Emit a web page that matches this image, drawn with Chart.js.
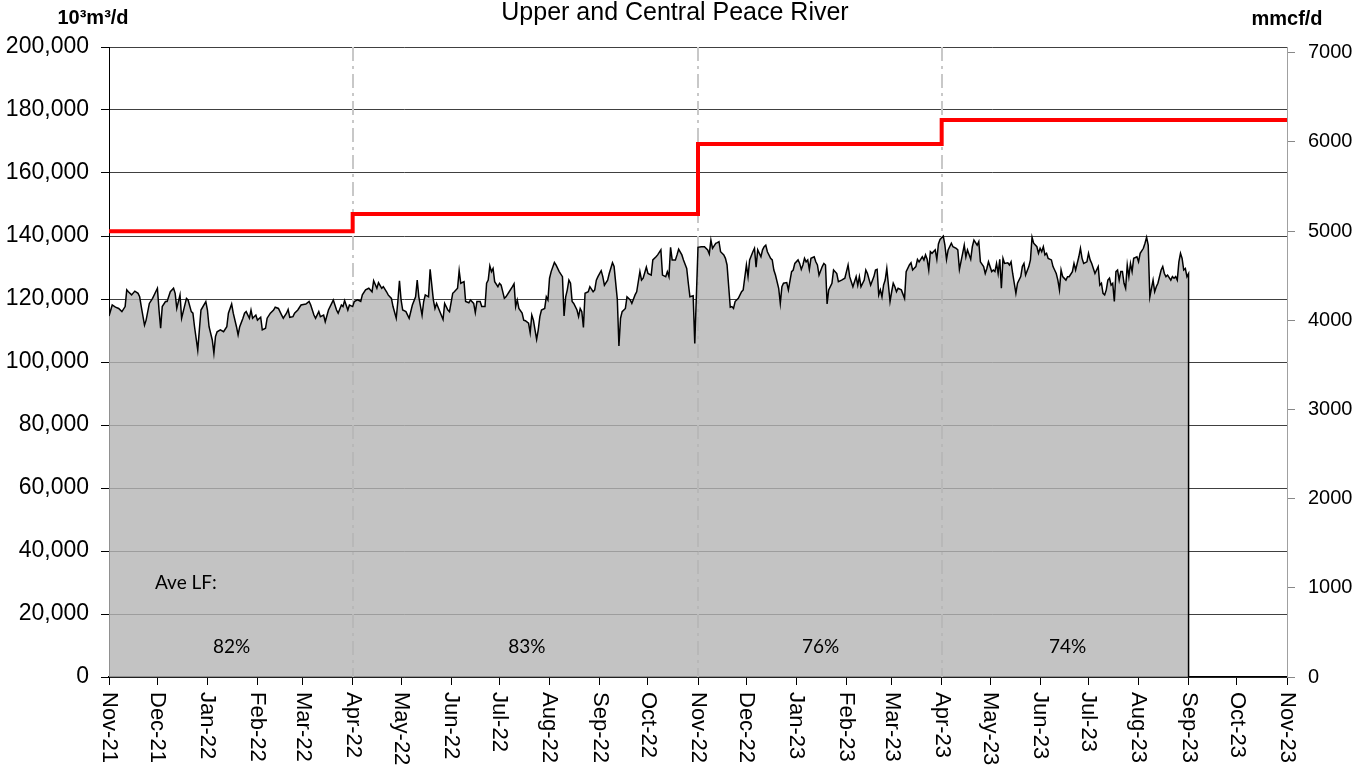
<!DOCTYPE html>
<html>
<head>
<meta charset="utf-8">
<script src="https://cdn.jsdelivr.net/npm/chart.js@4"></script>
<style>
  html, body { margin: 0; padding: 0; background: #fff; }
  #chart-container { width: 1365px; height: 768px; }
</style>
</head>
<body>
<div id="chart-container"><canvas id="myChart" width="1365" height="768"></canvas></div>
<script>
// month tick labels, first one is 1 Nov 2021 (day 0)
const monthLabels = [
  "Nov-21", "Dec-21", "Jan-22", "Feb-22", "Mar-22", "Apr-22", "May-22", "Jun-22",
  "Jul-22", "Aug-22", "Sep-22", "Oct-22", "Nov-22", "Dec-22", "Jan-23", "Feb-23",
  "Mar-23", "Apr-23", "May-23", "Jun-23", "Jul-23", "Aug-23", "Sep-23", "Oct-23", "Nov-23",
];

// daily throughput, [day since 1 Nov 2021, 10^3 m3/d]
const flowPoints = [
  [0,114600],[2,118100],[4,117400],[6,117000],[8,116000],[10,117600],[11,122900],[12,122300],[14,121300],[16,122500],
  [18,121800],[19,120700],[20,117600],[22,111700],[23,113300],[25,118600],[27,120200],[30,123400],[31,116500],[32,110700],
  [33,117600],[35,119200],[36,119200],[38,122300],[40,123400],[41,121800],[42,117000],[44,121300],[45,113900],[46,116000],
  [48,120200],[49,119700],[51,116000],[52,115500],[53,111200],[55,103800],[56,110200],[57,116500],[60,119200],[61,116500],
  [62,111200],[64,107000],[65,102800],[66,108100],[67,109600],[69,110200],[71,109600],[73,111200],[74,115500],[76,118400],
  [77,115500],[79,111200],[80,108600],[81,111200],[83,113900],[84,115500],[85,116000],[87,113900],[88,116500],[89,113900],
  [91,114900],[92,113300],[94,114200],[95,110200],[97,110700],[98,113900],[100,115500],[102,116500],[103,117400],[105,117000],
  [107,114900],[108,113900],[110,115500],[111,116700],[112,114200],[114,114400],[115,115500],[117,116500],[119,118100],[122,118400],
  [124,119200],[125,118100],[127,114900],[128,113900],[130,116000],[131,114400],[133,114900],[134,112800],[136,116500],[138,118600],
  [139,119700],[141,116500],[142,115500],[144,118100],[145,117600],[146,119500],[148,116500],[149,118100],[151,117600],[152,119200],
  [154,119700],[156,119200],[157,121300],[159,122900],[161,123400],[163,122300],[164,125800],[166,123400],[167,125200],[169,123400],
  [170,123900],[172,122300],[173,121300],[175,120200],[176,117600],[178,113900],[179,119200],[180,125800],[181,119700],[182,116500],
  [184,116000],[186,113900],[188,118100],[190,120700],[191,126000],[192,120700],[194,114900],[195,119200],[196,121300],[198,120700],
  [199,129400],[201,119700],[202,117000],[203,118600],[205,116000],[207,113500],[208,118600],[210,116500],[211,116000],[213,121800],
  [214,122300],[216,123400],[217,129000],[218,125000],[220,125500],[221,119200],[223,118800],[224,119700],[226,118600],[227,115700],
  [228,119200],[230,119200],[231,117600],[233,117600],[234,125000],[235,126000],[236,130500],[237,128700],[238,129700],[239,125500],
  [241,123900],[242,125000],[243,124400],[245,120200],[246,120700],[248,122300],[250,123900],[251,124800],[252,117600],[253,119700],
  [254,117000],[256,115500],[257,113300],[258,113100],[260,112300],[261,109300],[262,114900],[263,113300],[264,110200],[265,107200],
  [266,110200],[267,114400],[268,116500],[270,117000],[271,120700],[272,119700],[273,126600],[274,128700],[276,131600],[277,130800],
  [279,128700],[281,127100],[282,114600],[283,120700],[284,122900],[285,126000],[286,125000],[287,119200],[288,118600],[290,116500],
  [291,114400],[292,117000],[293,116000],[294,111000],[295,121800],[297,122300],[298,123900],[300,122300],[301,122900],[302,126000],
  [303,127100],[305,129000],[306,127100],[307,124400],[309,126000],[310,128100],[312,131500],[313,130300],[315,119900],[316,105100],
  [317,113900],[318,116000],[320,117000],[321,120700],[323,119700],[324,118600],[326,121300],[327,122300],[329,128700],[330,126000],
  [331,126600],[333,130100],[334,128100],[336,127600],[337,132400],[339,133400],[340,134000],[342,135600],[343,127600],[345,127100],
  [346,128700],[347,127100],[348,136400],[349,132400],[351,132400],[352,134000],[353,135800],[355,134000],[356,132400],[358,129700],
  [359,125000],[360,120700],[362,121000],[363,105900],[365,136400],[367,136600],[369,136600],[371,135600],[372,134300],[373,138700],
  [374,136100],[376,137700],[377,137900],[378,138200],[379,135000],[381,134000],[382,132900],[383,130800],[385,117400],[386,117600],
  [387,117000],[388,119200],[390,120200],[392,122300],[393,122900],[395,130800],[396,127100],[397,132400],[399,135000],[400,136100],
  [401,130100],[402,135600],[404,133400],[405,135600],[406,136600],[407,137100],[408,135000],[410,132900],[411,132400],[412,129200],
  [413,127600],[415,123400],[416,118600],[417,123900],[418,125000],[420,125200],[421,122900],[423,128700],[424,129200],[425,131300],
  [427,132400],[428,131300],[429,129400],[430,130800],[431,132900],[432,131800],[433,132400],[434,129400],[435,132900],[437,133400],
  [438,131800],[439,130800],[440,127600],[442,130300],[443,131300],[444,130800],[445,118400],[446,122900],[448,125000],[449,129200],
  [451,128100],[452,125500],[454,126000],[456,126600],[457,128700],[458,130800],[459,127100],[460,125500],[461,123900],[463,127100],
  [464,124400],[465,127100],[466,123900],[468,126000],[469,129200],[470,128100],[472,124400],[474,127100],[475,129200],[476,129400],
  [477,121300],[478,122900],[479,120700],[480,124400],[481,126000],[482,129700],[484,119200],[485,122300],[486,125000],[487,123900],
  [488,122300],[489,123400],[491,122900],[493,120200],[494,128700],[496,130800],[497,131500],[498,129200],[500,130300],[501,132600],
  [502,131800],[504,133400],[505,132400],[506,134000],[507,132600],[508,129200],[509,135000],[510,134500],[512,135600],[513,132600],
  [514,137500],[515,138900],[517,140000],[518,137100],[519,132600],[520,135600],[522,137700],[523,136600],[525,136100],[526,135600],
  [527,129400],[529,134500],[530,137100],[531,133400],[532,135600],[534,132600],[535,136600],[536,138700],[538,137100],[539,138200],
  [540,131800],[542,130300],[543,128100],[544,129700],[545,131800],[547,128700],[548,129200],[549,128700],[550,131300],[551,128100],
  [552,132600],[553,123400],[554,132900],[555,131300],[557,131500],[558,130800],[559,131800],[560,128100],[562,121800],[563,125000],
  [565,127100],[566,130300],[567,131300],[568,127600],[570,130300],[571,132400],[572,139600],[573,137700],[575,136600],[576,134500],
  [577,136100],[578,135000],[579,136600],[580,134000],[581,134500],[582,132900],[584,132400],[585,130300],[586,129200],[587,128100],
  [588,126000],[589,122900],[590,129200],[591,127100],[593,126000],[594,127100],[595,127100],[597,128700],[598,131300],[599,129200],
  [601,133400],[602,136100],[603,132900],[604,131300],[606,131800],[607,134500],[608,132400],[609,131300],[611,128100],[612,129200],
  [613,130300],[614,124400],[615,125000],[616,121800],[617,121300],[618,122900],[619,126000],[620,126600],[621,124400],[622,125000],
  [623,119200],[624,128700],[625,129200],[626,126000],[627,128700],[628,128700],[629,125000],[630,123400],[631,130800],[632,127100],
  [633,131300],[634,128700],[635,132900],[637,133400],[638,131800],[639,134500],[641,136100],[642,137700],[643,139600],[644,137100],
  [645,120700],[646,123400],[647,126000],[648,122300],[649,123900],[650,125000],[652,129200],[653,130300],[654,128100],[655,127100],
  [656,127600],[658,126000],[659,127100],[660,126600],[661,127100],[662,126000],[663,131800],[664,134500],[665,132900],[666,129200],
  [667,129700],[668,127100],[669,128100],[669,0],[730,0],
];

// firm capacity steps
const capacityDays = [0, 151, 365, 516, 730];
const capacityValues = [141500, 147000, 169200, 176800, 176800];

// period boundaries (dash-dot lines) and average load factors
const periodStarts = [151, 365, 516];
const lfLabels = ["82%", "83%", "76%", "74%"];
const lfDays = [76, 259, 441, 594];

// axis ticks
const rightTicks = [0, 1000, 2000, 3000, 4000, 5000, 6000, 7000];
const M3_PER_MMCF = 28.317; // 10^3 m3 per mmcf
const leftMax = 200000;

const startDate = Date.UTC(2021, 10, 1);
const monthDays = monthLabels.map((_, i) =>
  Math.round((Date.UTC(2021, 10 + i, 1) - startDate) / 86400000),
);

const FONT = "Arial, 'Liberation Sans', sans-serif";

const extrasPlugin = {
  id: "extras",
  beforeDatasetsDraw(chart) {
    const { ctx, chartArea } = chart;
    const x = chart.scales.x;
    ctx.save();
    ctx.strokeStyle = "#c8c8c8";
    ctx.lineWidth = 2;
    ctx.setLineDash([14, 5, 3, 5]);
    periodStarts.forEach((d) => {
      const px = Math.round(x.getPixelForValue(d));
      ctx.beginPath();
      ctx.moveTo(px, chartArea.top);
      ctx.lineTo(px, chartArea.bottom);
      ctx.stroke();
    });
    ctx.restore();
  },
  afterDraw(chart) {
    const { ctx } = chart;
    const x = chart.scales.x;
    const y = chart.scales.y;
    ctx.save();
    ctx.fillStyle = "#000";

    // rotated month labels, reading top to bottom
    ctx.font = "22px " + FONT;
    ctx.textAlign = "left";
    ctx.textBaseline = "middle";
    monthLabels.forEach((label, i) => {
      ctx.save();
      ctx.translate(x.getPixelForValue(monthDays[i]), x.top + 15);
      ctx.rotate(Math.PI / 2);
      ctx.fillText(label, 0, 0);
      ctx.restore();
    });

    // title and unit labels
    ctx.textAlign = "center";
    ctx.textBaseline = "middle";
    ctx.font = "25px " + FONT;
    ctx.fillText("Upper and Central Peace River", 675, 13);
    ctx.font = "bold 20px " + FONT;
    ctx.textBaseline = "alphabetic";
    ctx.fillText("10\u00B3m\u00B3/d", 93, 24);
    ctx.fillText("mmcf/d", 1287, 25);

    // load factor notes
    ctx.font = "19px Lato, 'Open Sans', sans-serif";
    ctx.textBaseline = "middle";
    ctx.textAlign = "left";
    ctx.fillText("Ave LF:", x.getPixelForValue(28.5), y.getPixelForValue(30000));
    ctx.textAlign = "center";
    lfLabels.forEach((label, i) => {
      ctx.fillText(label, x.getPixelForValue(lfDays[i]), y.getPixelForValue(9500));
    });
    ctx.restore();
  },
};

new Chart(document.getElementById("myChart").getContext("2d"), {
  type: "line",
  data: {
    datasets: [
      {
        label: "Capacity",
        data: capacityDays.map((d, i) => ({ x: d, y: capacityValues[i] })),
        stepped: "before",
        borderColor: "#ff0000",
        borderWidth: 4,
        pointRadius: 0,
        fill: false,
      },
      {
        label: "Throughput",
        data: flowPoints.map((p) => ({ x: p[0], y: p[1] })),
        borderColor: "#000",
        borderWidth: 1.5,
        backgroundColor: "rgba(180,180,180,0.8)",
        fill: "origin",
        pointRadius: 0,
        tension: 0,
      },
    ],
  },
  options: {
    responsive: false,
    animation: false,
    layout: { padding: { top: 47, left: 0, right: 0, bottom: 0 } },
    plugins: {
      legend: { display: false },
      tooltip: { enabled: false },
      title: { display: false },
    },
    scales: {
      x: {
        type: "linear",
        min: 0,
        max: 730,
        afterBuildTicks: (scale) => {
          scale.ticks = monthDays.map((v) => ({ value: v }));
        },
        afterFit: (scale) => {
          scale.height = 91;
        },
        ticks: { display: false },
        grid: {
          drawOnChartArea: false,
          tickLength: 8,
          tickColor: "#000",
          color: "#000",
        },
        border: { color: "#000", width: 1.5 },
      },
      y: {
        position: "left",
        min: 0,
        max: leftMax,
        ticks: {
          stepSize: 20000,
          color: "#000",
          padding: 12,
          font: { family: FONT, size: 23 },
          callback: (v) => v.toLocaleString("en-US"),
        },
        afterFit: (scale) => {
          scale.width = 109;
        },
        grid: { color: "#404040", tickLength: 8, tickColor: "#000" },
        border: { color: "#000", width: 1 },
      },
      y2: {
        position: "right",
        min: 0,
        max: leftMax / M3_PER_MMCF,
        afterBuildTicks: (scale) => {
          scale.ticks = rightTicks.map((v) => ({ value: v }));
        },
        ticks: {
          autoSkip: false,
          color: "#000",
          padding: 13,
          font: { family: FONT, size: 20 },
          callback: (v) => String(v),
        },
        afterFit: (scale) => {
          scale.width = 78;
        },
        grid: { drawOnChartArea: false, tickLength: 8, tickColor: "#888" },
        border: { color: "#a0a0a0", width: 1 },
      },
    },
  },
  plugins: [extrasPlugin],
});
</script>
</body>
</html>
